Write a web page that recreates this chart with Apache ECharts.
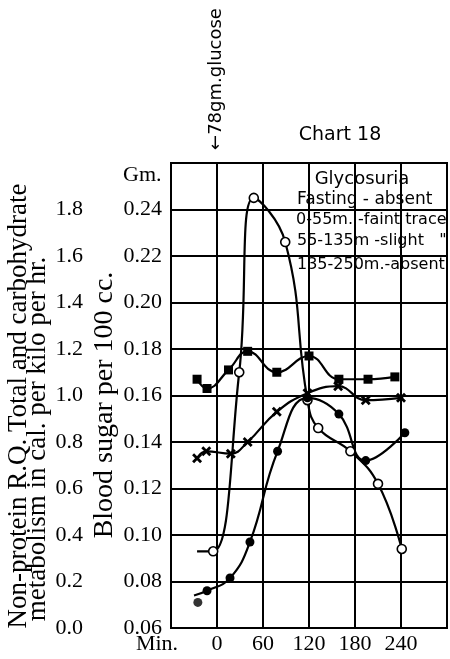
<!DOCTYPE html>
<html>
<head>
<meta charset="utf-8">
<script src="https://cdn.jsdelivr.net/npm/echarts@6/dist/echarts.min.js"></script>
<style>
  html, body { margin: 0; padding: 0; background: #fff; }
  #chart { width: 450px; height: 659px; }
</style>
</head>
<body>
<div id="chart"></div>
<script>
// blood sugar, gm per 100 cc (open circles)
const sugarTime = [-26, -5, 29, 48, 89, 118, 132, 174, 210, 241]
const sugarValue = [0.093, 0.093, 0.170, 0.245, 0.226, 0.158, 0.146, 0.136, 0.122, 0.094]

// total metabolism, cal per kilo per hr (squares)
const totalTime = [-26, -13, 15, 40, 78, 120, 159, 197, 232]
const totalValue = [1.07, 1.03, 1.11, 1.19, 1.10, 1.17, 1.07, 1.07, 1.08]

// non-protein R.Q. (crosses)
const rqTime = [-26, -14, 18, 40, 78, 118, 158, 194, 240]
const rqValue = [0.73, 0.76, 0.75, 0.80, 0.93, 1.01, 1.04, 0.98, 0.99]

// carbohydrate metabolism (filled circles)
const carbTime = [-30, -13, 17, 43, 79, 118, 159, 194, 245]
const carbValue = [0.14, 0.16, 0.215, 0.37, 0.76, 0.99, 0.92, 0.72, 0.84]
const carbLoneTime = [-25]
const carbLoneValue = [0.11]

const minuteTicks = [-60, 0, 60, 120, 180, 240, 300]

const serif = 'Liberation Serif'
const crossPath = 'path://M0,2L2,0L5,3L8,0L10,2L7,5L10,8L8,10L5,7L2,10L0,8L3,5Z'

// first point of a curve is only the start of the stub line
const pairs = (xs, ys, stub) => xs.map((x, i) =>
  (stub && i === 0) ? { value: [x, ys[i]], symbol: 'none' } : [x, ys[i]])

const chart = echarts.init(document.getElementById('chart'))

const lineBase = {
  type: 'line',
  smooth: 0.45,
  symbolSize: 9,
  lineStyle: { color: '#000', width: 2.2 },
  itemStyle: { color: '#000' },
  emphasis: { disabled: true }
}

chart.setOption({
  animation: false,
  backgroundColor: '#fff',
  grid: {
    left: 171,
    right: 1,
    top: 163,
    bottom: 31,
    show: true,
    borderColor: '#000',
    borderWidth: 2
  },
  xAxis: {
    type: 'value',
    min: -60,
    max: 300,
    interval: 60,
    axisLine: { show: true, lineStyle: { color: '#000', width: 2 } },
    axisTick: { show: false },
    splitLine: { show: true, lineStyle: { color: '#000', width: 2 } },
    axisLabel: {
      color: '#000',
      fontFamily: serif,
      fontSize: 22,
      margin: 5,
      formatter: (v) => {
        if (v === minuteTicks[0]) return '{m|Min.}'
        if (v === minuteTicks[minuteTicks.length - 1]) return ''
        return String(v)
      },
      rich: {
        m: { fontFamily: serif, fontSize: 22, color: '#000', padding: [0, 28, 0, 0] }
      }
    }
  },
  yAxis: [
    {
      type: 'value',
      min: 0.06,
      max: 0.26,
      interval: 0.02,
      axisLine: { show: true, lineStyle: { color: '#000', width: 2 } },
      axisTick: { show: false },
      splitLine: { show: true, lineStyle: { color: '#000', width: 2 } },
      axisLabel: {
        color: '#000',
        fontFamily: serif,
        fontSize: 22,
        margin: 9,
        formatter: (v) => v > 0.25 ? '' : v.toFixed(2)
      }
    },
    {
      type: 'value',
      position: 'left',
      offset: 88,
      min: 0,
      max: 2.0,
      interval: 0.2,
      axisLine: { show: false },
      axisTick: { show: false },
      splitLine: { show: false },
      axisLabel: {
        color: '#000',
        fontFamily: serif,
        fontSize: 22,
        margin: 0,
        formatter: (v) => v > 1.9 ? '' : v.toFixed(1)
      }
    }
  ],
  series: [
    Object.assign({}, lineBase, {
      name: 'Blood sugar',
      yAxisIndex: 0,
      symbol: 'circle',
      itemStyle: { color: '#fff', borderColor: '#000', borderWidth: 1.6 },
      data: pairs(sugarTime, sugarValue, true)
    }),
    Object.assign({}, lineBase, {
      name: 'Total metabolism',
      yAxisIndex: 1,
      symbol: 'rect',
      data: pairs(totalTime, totalValue, false)
    }),
    Object.assign({}, lineBase, {
      name: 'R.Q.',
      yAxisIndex: 1,
      symbol: crossPath,
      symbolSize: 10,
      data: pairs(rqTime, rqValue, false)
    }),
    Object.assign({}, lineBase, {
      name: 'Carbohydrate metabolism',
      yAxisIndex: 1,
      symbol: 'circle',
      data: pairs(carbTime, carbValue, true)
    }),
    {
      type: 'scatter',
      yAxisIndex: 1,
      symbol: 'circle',
      symbolSize: 9,
      itemStyle: { color: '#000' },
      data: pairs(carbLoneTime, carbLoneValue, false)
    }
  ],
  graphic: [
    {
      type: 'text', x: 19, y: 406, rotation: Math.PI / 2,
      style: { text: 'Non-protein R.Q. Total and carbohydrate', font: '27px "Liberation Serif"', fill: '#000', align: 'center', verticalAlign: 'middle' }
    },
    {
      type: 'text', x: 38, y: 439, rotation: Math.PI / 2,
      style: { text: 'metabolism in cal. per kilo per hr.', font: '27px "Liberation Serif"', fill: '#000', align: 'center', verticalAlign: 'middle' }
    },
    {
      type: 'text', x: 105, y: 405, rotation: Math.PI / 2,
      style: { text: 'Blood sugar per 100 cc.', font: '28px "Liberation Serif"', fill: '#000', align: 'center', verticalAlign: 'middle' }
    },
    {
      type: 'text', x: 123, y: 175,
      style: { text: 'Gm.', font: '22px "Liberation Serif"', fill: '#000', align: 'left', verticalAlign: 'middle' }
    },
    {
      type: 'text', x: 216, y: 79, rotation: Math.PI / 2,
      style: { text: '\u219078gm.glucose', font: '18px "DejaVu Sans"', fill: '#000', align: 'center', verticalAlign: 'middle' }
    },
    {
      type: 'text', x: 340, y: 135,
      style: { text: 'Chart 18', font: '19px "DejaVu Sans"', fill: '#000', align: 'center', verticalAlign: 'middle' }
    },
    {
      type: 'text', x: 362, y: 179,
      style: { text: 'Glycosuria', font: '18px "DejaVu Sans"', fill: '#000', align: 'center', verticalAlign: 'middle' }
    },
    {
      type: 'text', x: 297, y: 200,
      style: { text: 'Fasting - absent', font: '17px "DejaVu Sans"', fill: '#000', align: 'left', verticalAlign: 'middle' }
    },
    {
      type: 'text', x: 296, y: 220,
      style: { text: '0-55m. -faint trace', font: '16px "DejaVu Sans"', fill: '#000', align: 'left', verticalAlign: 'middle' }
    },
    {
      type: 'text', x: 297, y: 241,
      style: { text: '55-135m -slight   "', font: '16px "DejaVu Sans"', fill: '#000', align: 'left', verticalAlign: 'middle' }
    },
    {
      type: 'text', x: 297, y: 265,
      style: { text: '135-250m.-absent', font: '16px "DejaVu Sans"', fill: '#000', align: 'left', verticalAlign: 'middle' }
    }
  ]
})
</script>
</body>
</html>
